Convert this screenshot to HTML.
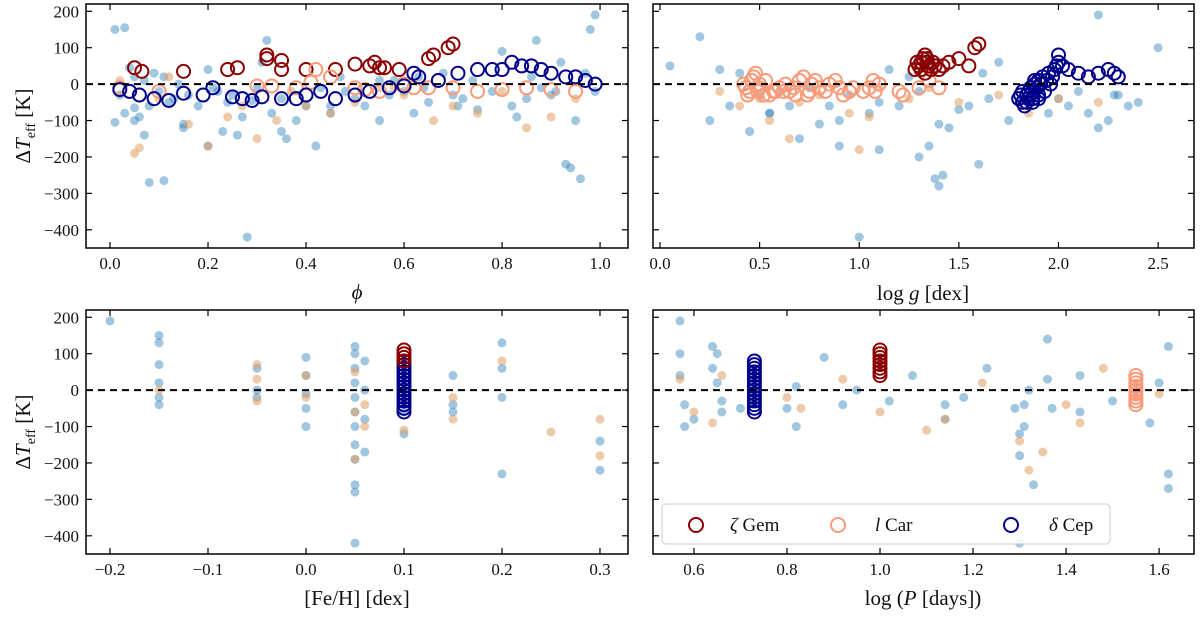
<!DOCTYPE html>
<html><head><meta charset="utf-8"><style>
body{margin:0;background:#fff;}
svg text{font-family:"Liberation Serif","DejaVu Serif",serif;fill:#111;}
</style></head><body>
<svg id="chart" width="1200" height="615" xmlns="http://www.w3.org/2000/svg"></svg>
<script>
// ---- data arrays ----
const tlBlueX=[0.01,0.01,0.02,0.03,0.03,0.04,0.05,0.05,0.06,0.07,0.08,0.08,0.09,0.1,0.11,0.12,0.13,0.15,0.16,0.18,0.2,0.2,0.21,0.23,0.24,0.26,0.27,0.28,0.29,0.31,0.32,0.33,0.35,0.36,0.38,0.4,0.42,0.43,0.45,0.47,0.5,0.52,0.55,0.57,0.6,0.62,0.63,0.65,0.68,0.7,0.72,0.75,0.78,0.8,0.82,0.85,0.87,0.88,0.9,0.92,0.93,0.94,0.95,0.96,0.98,0.99,0.99,0.15,0.25,0.45,0.55,0.35,0.05,0.71,0.83,0.07,0.11,0.14,0.22,0.3,0.48,0.58,0.64,0.74,0.86,0.91,0.97];
const tlBlueY=[150,-105,-30,-80,155,45,-100,-65,-90,-140,-270,-60,30,-20,-265,-50,-40,-120,-30,-60,-170,40,-10,-130,-50,-140,-90,-420,-45,60,120,-80,-40,-150,-100,-60,-170,-10,-80,20,-40,-60,10,-30,-20,-80,20,-50,30,-30,-40,-70,-20,90,-60,-40,120,-10,-30,60,-220,-230,-100,-260,150,190,-20,-110,-30,-60,-100,-130,20,-60,-90,10,20,0,-20,-10,-20,10,-10,10,20,-20,30];
const tlTanX=[0.02,0.05,0.06,0.1,0.12,0.16,0.2,0.24,0.3,0.34,0.37,0.4,0.45,0.5,0.55,0.6,0.66,0.7,0.75,0.8,0.85,0.9,0.95,0.27,0.58];
const tlTanY=[10,-190,-175,-40,20,-110,-170,-90,-150,-100,-20,-60,-80,-50,-10,-30,-100,-60,-80,-20,-120,-90,-40,-60,-10];
const tlRedX=[0.05,0.065,0.15,0.24,0.26,0.32,0.32,0.35,0.35,0.4,0.46,0.5,0.53,0.54,0.55,0.56,0.59,0.65,0.66,0.69,0.7];
const tlRedY=[45,35,35,40,45,80,70,65,40,40,40,55,50,60,45,45,40,70,80,100,110];
const tlSalX=[0.02,0.1,0.3,0.33,0.38,0.42,0.45,0.5,0.55,0.6,0.65,0.7,0.75,0.8,0.85,0.9,0.95,0.41,0.52,0.62];
const tlSalY=[-10,-20,-5,-5,-10,40,20,-10,-20,0,-10,-10,-20,-15,-10,-15,-20,5,-15,-10];
const tlNavX=[0.02,0.04,0.06,0.09,0.12,0.15,0.19,0.21,0.25,0.27,0.29,0.31,0.35,0.38,0.4,0.43,0.46,0.5,0.53,0.57,0.6,0.63,0.67,0.71,0.75,0.78,0.82,0.84,0.86,0.88,0.9,0.93,0.95,0.97,0.99,0.8,0.62];
const tlNavY=[-15,-20,-30,-40,-45,-25,-30,-10,-35,-40,-45,-35,-40,-40,-30,-20,-40,-30,-20,-10,-5,20,10,30,40,40,60,50,50,40,30,20,20,10,0,40,30];

const trBlueX=[0.05,0.2,0.25,0.3,0.35,0.4,0.45,0.5,0.55,0.6,0.65,0.7,0.75,0.8,0.85,0.9,0.95,1.0,1.05,1.1,1.15,1.2,1.25,1.3,1.35,1.38,1.4,1.45,1.5,1.55,1.6,1.65,1.7,1.75,1.8,1.85,1.9,1.95,2.0,2.05,2.1,2.15,2.2,2.25,2.3,2.35,2.4,2.5,1.42,1.4,1.3,1.62,0.55,0.9,1.1,2.2,2.28,1.35];
const trBlueY=[50,130,-100,40,-60,30,-130,-30,-80,-20,-60,-150,-10,-110,-60,-170,-30,-420,-80,-50,40,-60,20,-20,-170,-260,-280,-120,-70,-60,-220,-40,60,-100,-50,-60,-30,-80,-40,-60,-20,-80,-120,-100,-30,-60,-50,100,-250,-110,-200,30,-80,-100,-180,190,-30,80];
const trTanX=[0.3,0.4,0.5,0.55,0.65,0.7,0.8,0.95,1.0,1.05,1.1,1.25,1.35,1.5,1.7,1.85,2.0,2.2];
const trTanY=[-20,-60,-40,-100,-150,-50,-30,-80,-180,-90,-10,-40,-10,-50,-30,-80,-40,-50];
const trRedX=[1.28,1.3,1.31,1.32,1.33,1.34,1.35,1.36,1.38,1.4,1.45,1.5,1.55,1.6,1.33,1.29,1.31,1.34,1.37,1.42,1.58];
const trRedY=[40,50,60,70,80,60,50,40,50,40,60,70,50,110,30,60,40,70,60,50,100];
const trSalX=[0.42,0.45,0.47,0.5,0.55,0.6,0.65,0.7,0.75,0.8,0.85,0.9,0.95,1.05,1.1,1.2,1.3,1.35,1.4,0.48,0.52,0.62,0.72,0.44,0.46,0.5,0.58,0.68,0.78,0.92,1.08,1.22,0.43,0.49,0.53,0.57,0.63,0.67,0.74,0.76,0.83,0.88,0.97,1.02,1.07];
const trSalY=[0,-20,20,-10,-30,-10,-20,10,-20,-10,0,-10,-20,-10,0,-20,-10,10,-10,30,-30,-20,20,-30,10,0,-20,-30,10,-30,-20,-30,-10,-20,10,-20,0,-10,-30,0,-20,10,-10,-20,10];
const trNavX=[1.8,1.82,1.84,1.85,1.86,1.88,1.9,1.92,1.95,1.98,2.0,2.02,2.05,2.1,2.15,2.2,2.25,2.28,2.3,1.83,1.87,1.9,1.93,1.96,2.0,1.85,1.88,1.82,1.86,1.9,1.81,1.84,1.87,1.89,1.91,1.94,1.97,1.99];
const trNavY=[-40,-50,-30,-20,-10,0,10,20,30,40,60,50,40,30,20,30,40,30,20,-60,-50,-30,-20,0,80,-40,10,-20,-30,-40,-30,-50,-40,-10,0,10,20,50];

const blBlueX=[-0.2,-0.15,-0.15,-0.15,-0.15,-0.15,-0.15,-0.05,-0.05,-0.05,0,0,0,0,0,0.05,0.05,0.05,0.05,0.05,0.05,0.05,0.05,0.05,0.05,0.06,0.06,0.06,0.06,0.1,0.1,0.15,0.15,0.15,0.2,0.2,0.2,0.2,0.3,0.3,0.05,0.05];
const blBlueY=[190,150,130,70,20,-20,-40,60,0,-20,90,40,-10,-50,-100,120,100,60,20,-20,-60,-100,-150,-260,-420,80,0,-80,-170,-60,-120,40,-40,-60,130,60,-20,-230,-140,-220,-280,-190];
const blTanX=[-0.15,-0.05,-0.05,-0.05,0,0,0.05,0.05,0.05,0.06,0.06,0.1,0.15,0.15,0.2,0.25,0.3,0.3];
const blTanY=[0,70,30,-30,40,-20,50,-60,-190,-40,-100,-110,-20,-80,80,-115,-80,-180];
const blNavX=[0.1,0.1,0.1,0.1,0.1,0.1,0.1,0.1,0.1,0.1,0.1,0.1,0.1,0.1,0.1];
const blNavY=[-60,-50,-40,-30,-20,-10,0,10,20,30,40,50,60,70,80];
const blRedX=[0.1,0.1,0.1,0.1];
const blRedY=[80,90,100,110];

const brBlueX=[0.57,0.57,0.57,0.58,0.58,0.6,0.64,0.64,0.65,0.65,0.66,0.66,0.7,0.8,0.82,0.82,0.88,0.92,0.95,1.02,1.07,1.14,1.14,1.18,1.23,1.29,1.3,1.3,1.31,1.31,1.32,1.33,1.36,1.36,1.37,1.43,1.43,1.5,1.58,1.6,1.62,1.62,1.62,1.3];
const brBlueY=[190,100,40,-40,-100,-80,120,60,100,20,-60,-30,-50,-50,10,-100,90,-40,0,-30,40,-40,-80,-20,60,-50,-120,-180,-100,-40,0,-260,140,30,-50,40,-60,-30,-90,20,120,-230,-270,-420];
const brTanX=[0.57,0.6,0.64,0.66,0.8,0.83,0.92,1.0,1.1,1.14,1.22,1.3,1.32,1.35,1.4,1.43,1.48,1.55,1.6];
const brTanY=[30,-60,-90,40,-20,-50,30,-60,-110,-80,20,-140,-220,-170,-40,-90,60,-20,-10];
const brNavX=[0.73,0.73,0.73,0.73,0.73,0.73,0.73,0.73,0.73,0.73,0.73,0.73,0.73,0.73,0.73];
const brNavY=[-60,-50,-40,-30,-20,-10,0,10,20,30,40,50,60,70,80];
const brRedX=[1.0,1.0,1.0,1.0,1.0,1.0,1.0,1.0];
const brRedY=[40,50,60,70,80,90,100,110];
const brSalX=[1.55,1.55,1.55,1.55,1.55,1.55,1.55,1.55,1.55];
const brSalY=[-40,-30,-20,-10,0,10,20,30,40];

const yTicks=[200,100,0,-100,-200,-300,-400];
const tlTicks=[0.0,0.2,0.4,0.6,0.8,1.0];
const trTicks=[0.0,0.5,1.0,1.5,2.0,2.5];
const blTicks=[-0.2,-0.1,0.0,0.1,0.2,0.3];
const brTicks=[0.6,0.8,1.0,1.2,1.4,1.6];

// ---- rendering ----
const svg=document.getElementById('chart');
const NS='http://www.w3.org/2000/svg';
function mk(tag,attrs,parent){const e=document.createElementNS(NS,tag);for(const k in attrs)e.setAttribute(k,attrs[k]);(parent||svg).appendChild(e);return e;}
const BLUE='rgba(31,119,180,0.42)',TAN='rgba(222,160,100,0.55)',RED='#8b0000',SAL='#fa9a78',NAV='#00008b';
function fmt(v,d){const s=Math.abs(v).toFixed(d);return (v<0?'\u2212':'')+s;}

function panel(name,L,R,T,B,xmin,xmax,xt,dec,showY,sets){
  const ymin=-450,ymax=220;
  const sx=v=>L+(v-xmin)/(xmax-xmin)*(R-L);
  const sy=v=>B-(v-ymin)/(ymax-ymin)*(B-T);
  const g=mk('g',{});
  
  
  const clip=mk('clipPath',{id:'c'+name},g);mk('rect',{x:L,y:T,width:R-L,height:B-T},clip);
  const pg=mk('g',{'clip-path':'url(#c'+name+')'},g);
  sets.forEach(s=>{
    for(let i=0;i<s.x.length;i++){
      const c=mk('circle',{cx:sx(s.x[i]),cy:sy(s.y[i]),r:s.ring?6.5:4.5,fill:s.ring?'none':s.c,stroke:s.ring?s.c:'none','stroke-width':s.ring?2:0},pg);
      
      
    }
  });
  const zl=mk('line',{x1:L,x2:R,y1:sy(0),y2:sy(0),stroke:'#000','stroke-width':2,'stroke-dasharray':'7,5'},g);
  
  
  xt.forEach(v=>{const x=sx(v);
    mk('line',{x1:x,x2:x,y1:B,y2:B-6,stroke:'#000','stroke-width':1.2},g);
    mk('line',{x1:x,x2:x,y1:T,y2:T+6,stroke:'#000','stroke-width':1.2},g);
    const t=mk('text',{x:x,y:B+21,'text-anchor':'middle','font-size':17},g);t.textContent=fmt(v,dec);
    
    
  });
  yTicks.forEach(v=>{const y=sy(v);
    mk('line',{x1:L,x2:L+6,y1:y,y2:y,stroke:'#000','stroke-width':1.2},g);
    mk('line',{x1:R,x2:R-6,y1:y,y2:y,stroke:'#000','stroke-width':1.2},g);
    if(showY){const t=mk('text',{x:L-7,y:y+6,'text-anchor':'end','font-size':17},g);t.textContent=fmt(v,0);
      
      }
  });
  mk('rect',{x:L,y:T,width:R-L,height:B-T,fill:'none',stroke:'#000','stroke-width':1.5},g);
}
function S(x,y,c,ring,n){return {x,y,c,ring,n};}
panel('panel-phase',86,628,4,248,-0.049,1.057,tlTicks,1,true,[S(tlBlueX,tlBlueY,BLUE,0,'blue-point'),S(tlTanX,tlTanY,TAN,0,'tan-point'),S(tlRedX,tlRedY,RED,1,'zeta-gem-point'),S(tlSalX,tlSalY,SAL,1,'l-car-point'),S(tlNavX,tlNavY,NAV,1,'delta-cep-point')]);
panel('panel-logg',653,1194,4,248,-0.035,2.68,trTicks,1,false,[S(trBlueX,trBlueY,BLUE,0,'blue-point'),S(trTanX,trTanY,TAN,0,'tan-point'),S(trSalX,trSalY,SAL,1,'l-car-point'),S(trRedX,trRedY,RED,1,'zeta-gem-point'),S(trNavX,trNavY,NAV,1,'delta-cep-point')]);
panel('panel-feh',86,628,310,554,-0.2245,0.3286,blTicks,1,true,[S(blBlueX,blBlueY,BLUE,0,'blue-point'),S(blTanX,blTanY,TAN,0,'tan-point'),S(blNavX,blNavY,NAV,1,'delta-cep-point'),S(blRedX,blRedY,RED,1,'zeta-gem-point')]);
panel('panel-logp',653,1194,310,554,0.512,1.675,brTicks,1,false,[S(brBlueX,brBlueY,BLUE,0,'blue-point'),S(brTanX,brTanY,TAN,0,'tan-point'),S(brNavX,brNavY,NAV,1,'delta-cep-point'),S(brRedX,brRedY,RED,1,'zeta-gem-point'),S(brSalX,brSalY,SAL,1,'l-car-point')]);
</script>
<svg width="1200" height="615" style="position:absolute;left:0;top:0" xmlns="http://www.w3.org/2000/svg">
  <g><text x="30" y="126" transform="rotate(-90 30 126)" text-anchor="middle" font-size="21" font-family="Liberation Serif, serif">Δ<tspan font-style="italic">T</tspan><tspan font-size="14" dy="5">eff</tspan><tspan dy="-5"> [K]</tspan></text></g>
  <g><text x="30" y="432" transform="rotate(-90 30 432)" text-anchor="middle" font-size="21" font-family="Liberation Serif, serif">Δ<tspan font-style="italic">T</tspan><tspan font-size="14" dy="5">eff</tspan><tspan dy="-5"> [K]</tspan></text></g>
  <text x="357" y="299" text-anchor="middle" font-size="21" font-style="italic" font-family="Liberation Serif, serif">ϕ</text>
  <text x="923" y="300" text-anchor="middle" font-size="21" font-family="Liberation Serif, serif">log <tspan font-style="italic">g</tspan> [dex]</text>
  <text x="357" y="605" text-anchor="middle" font-size="21" font-family="Liberation Serif, serif">[Fe/H] [dex]</text>
  <text x="923" y="605" text-anchor="middle" font-size="21" font-family="Liberation Serif, serif">log (<tspan font-style="italic">P</tspan> [days])</text>
  <g>
    <rect x="662" y="504" width="448" height="40" rx="4" fill="rgba(255,255,255,0.85)" stroke="#ccc" stroke-width="1"/>
    <circle cx="696" cy="525" r="7" fill="none" stroke="#8b0000" stroke-width="2"/>
    <text x="730" y="531" font-size="19" font-family="Liberation Serif, serif"><tspan font-style="italic">ζ</tspan> Gem</text>
    <circle cx="838" cy="525" r="7" fill="none" stroke="#fa9a78" stroke-width="2"/>
    <text x="875" y="531" font-size="19" font-family="Liberation Serif, serif"><tspan font-style="italic">l</tspan> Car</text>
    <circle cx="1011" cy="525" r="7" fill="none" stroke="#00008b" stroke-width="2"/>
    <text x="1049" y="531" font-size="19" font-family="Liberation Serif, serif"><tspan font-style="italic">δ</tspan> Cep</text>
  </g>
</svg>
</body></html>
